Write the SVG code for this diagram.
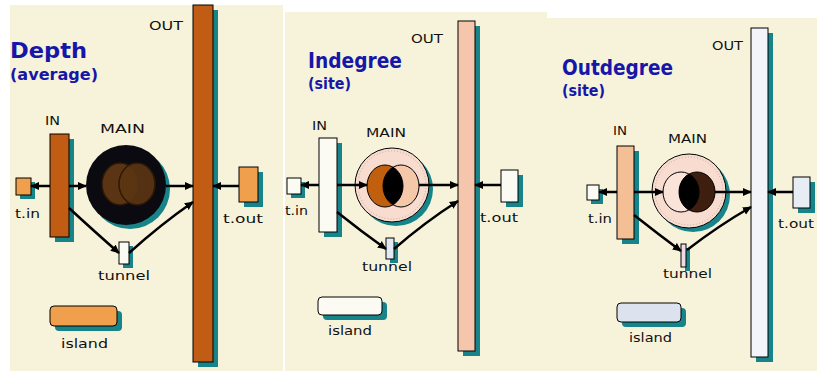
<svg xmlns="http://www.w3.org/2000/svg" width="817" height="371" viewBox="0 0 817 371">
<defs>
<marker id="ah" viewBox="0 0 10 10" refX="9" refY="5" markerWidth="9" markerHeight="9" markerUnits="userSpaceOnUse" orient="auto">
<path d="M0,0.5 L10,5 L0,9.5 z" fill="#000"/>
</marker>
<clipPath id="c2"><ellipse cx="401" cy="186" rx="18" ry="21"/></clipPath>
<clipPath id="c3"><ellipse cx="697" cy="192" rx="18" ry="20"/></clipPath>
<style>
.bg{fill:#f7f3da}
.sh{fill:#17848a}
.box{stroke:#000;stroke-width:1}
.lbl{font-family:"DejaVu Sans","Liberation Sans",sans-serif;font-size:13px;fill:#111}
.ttl{font-family:"DejaVu Sans","Liberation Sans",sans-serif;font-weight:bold;fill:#1616a8}
.cn{fill:none;stroke:#000;stroke-width:2.5;marker-end:url(#ah)}
.brown{fill:#c05c14}
.orange{fill:#f0a04c}
.peach{fill:#f6c6ac}
.white{fill:#fbfaf3}
.ring{fill:#f8dcd0;stroke:#000;stroke-width:1}
.dots{fill:none;stroke:#c9aaa0;stroke-width:1;stroke-dasharray:1 2}
</style>
</defs>
<rect width="817" height="371" fill="#fff"/>
<!-- panel backgrounds -->
<rect class="bg" x="10" y="5" width="273" height="366"/>
<rect class="bg" x="285" y="12" width="262" height="359"/>
<rect class="bg" x="547" y="18" width="270" height="353"/>

<!-- ===== Panel 1 : Depth ===== -->
<g id="p1-title">
<text class="ttl" x="10" y="58" font-size="22" textLength="77" lengthAdjust="spacingAndGlyphs">Depth</text>
<text class="ttl" x="10" y="80" font-size="15" textLength="88" lengthAdjust="spacingAndGlyphs">(average)</text>
</g>
<g id="p1-out">
<rect class="sh" x="198" y="10" width="20" height="357"/>
<rect class="box brown" x="193" y="5" width="20" height="357"/>
<text class="lbl" x="149" y="30" textLength="34" lengthAdjust="spacingAndGlyphs">OUT</text>
</g>
<g id="p1-in">
<rect class="sh" x="55" y="139" width="19" height="103"/>
<rect class="box brown" x="50" y="134" width="19" height="103"/>
<text class="lbl" x="45" y="125" textLength="15" lengthAdjust="spacingAndGlyphs">IN</text>
</g>
<g id="p1-main">
<circle class="sh" cx="130" cy="189" r="40"/>
<circle cx="126" cy="185" r="40" fill="#0a0a10"/>
<ellipse cx="120" cy="184" rx="18" ry="21" fill="#5b3513" stroke="#2e1806" stroke-width="1.5"/>
<ellipse cx="137" cy="184" rx="18" ry="21" fill="#5b3513" fill-opacity="0.9" stroke="#2e1806" stroke-width="1.5"/>
<text class="lbl" x="100" y="133" textLength="45" lengthAdjust="spacingAndGlyphs">MAIN</text>
</g>
<g id="p1-tin">
<rect class="sh" x="20" y="182" width="15" height="17"/>
<rect class="box orange" x="16" y="178" width="15" height="17"/>
<text class="lbl" x="15" y="218" textLength="25" lengthAdjust="spacingAndGlyphs">t.in</text>
</g>
<g id="p1-tout">
<rect class="sh" x="244" y="172" width="19" height="35"/>
<rect class="box orange" x="239" y="167" width="19" height="35"/>
<text class="lbl" x="223" y="223" textLength="40" lengthAdjust="spacingAndGlyphs">t.out</text>
</g>
<g id="p1-tunnel">
<rect class="sh" x="123" y="246" width="10" height="22"/>
<rect class="box white" x="119" y="242" width="10" height="22"/>
<text class="lbl" x="98" y="280" textLength="52" lengthAdjust="spacingAndGlyphs">tunnel</text>
</g>
<g id="p1-island">
<rect class="sh" x="55" y="311" width="67" height="20" rx="4"/>
<rect class="box orange" x="50" y="306" width="67" height="20" rx="4"/>
<text class="lbl" x="61" y="348" textLength="47" lengthAdjust="spacingAndGlyphs">island</text>
</g>

<!-- ===== Panel 2 : Indegree ===== -->
<g id="p2-title">
<text class="ttl" x="308" y="68" font-size="22" textLength="94" lengthAdjust="spacingAndGlyphs">Indegree</text>
<text class="ttl" x="308" y="89" font-size="15" textLength="43" lengthAdjust="spacingAndGlyphs">(site)</text>
</g>
<g id="p2-out">
<rect class="sh" x="463" y="26" width="17" height="330"/>
<rect class="box peach" x="458" y="21" width="17" height="330"/>
<text class="lbl" x="411" y="43" textLength="32" lengthAdjust="spacingAndGlyphs">OUT</text>
</g>
<g id="p2-in">
<rect class="sh" x="324" y="143" width="18" height="94"/>
<rect class="box white" x="319" y="138" width="18" height="94"/>
<text class="lbl" x="312" y="130" textLength="15" lengthAdjust="spacingAndGlyphs">IN</text>
</g>
<g id="p2-main">
<circle class="sh" cx="396" cy="189" r="37"/>
<circle class="ring" cx="392" cy="185" r="37"/>
<circle class="dots" cx="392" cy="185" r="34"/>
<ellipse cx="385" cy="186" rx="18" ry="21" fill="#c0600f"/>
<ellipse cx="401" cy="186" rx="18" ry="21" fill="#f6c8aa"/>
<ellipse cx="385" cy="186" rx="18" ry="21" fill="#000" clip-path="url(#c2)"/>
<ellipse cx="385" cy="186" rx="18" ry="21" fill="none" stroke="#000"/>
<ellipse cx="401" cy="186" rx="18" ry="21" fill="none" stroke="#000"/>
<text class="lbl" x="366" y="137" textLength="40" lengthAdjust="spacingAndGlyphs">MAIN</text>
</g>
<g id="p2-tin">
<rect class="sh" x="291" y="182" width="14" height="16"/>
<rect class="box white" x="287" y="178" width="14" height="16"/>
<text class="lbl" x="285" y="215" textLength="23" lengthAdjust="spacingAndGlyphs">t.in</text>
</g>
<g id="p2-tout">
<rect class="sh" x="506" y="175" width="17" height="32"/>
<rect class="box white" x="501" y="170" width="17" height="32"/>
<text class="lbl" x="480" y="222" textLength="38" lengthAdjust="spacingAndGlyphs">t.out</text>
</g>
<g id="p2-tunnel">
<rect class="sh" x="390" y="242" width="8" height="21"/>
<rect class="box" x="386" y="238" width="8" height="21" fill="#e6e8f2"/>
<text class="lbl" x="362" y="271" textLength="50" lengthAdjust="spacingAndGlyphs">tunnel</text>
</g>
<g id="p2-island">
<rect class="sh" x="323" y="302" width="64" height="18" rx="4"/>
<rect class="box white" x="318" y="297" width="64" height="18" rx="4"/>
<text class="lbl" x="328" y="335" textLength="44" lengthAdjust="spacingAndGlyphs">island</text>
</g>

<!-- ===== Panel 3 : Outdegree ===== -->
<g id="p3-title">
<text class="ttl" x="562" y="75" font-size="22" textLength="111" lengthAdjust="spacingAndGlyphs">Outdegree</text>
<text class="ttl" x="562" y="96" font-size="15" textLength="43" lengthAdjust="spacingAndGlyphs">(site)</text>
</g>
<g id="p3-out">
<rect class="sh" x="756" y="33" width="17" height="329"/>
<rect class="box" x="751" y="28" width="17" height="329" fill="#f3f3fa"/>
<text class="lbl" x="712" y="50" textLength="31" lengthAdjust="spacingAndGlyphs">OUT</text>
</g>
<g id="p3-in">
<rect class="sh" x="622" y="151" width="17" height="93"/>
<rect class="box" x="617" y="146" width="17" height="93" fill="#f4bf94"/>
<text class="lbl" x="613" y="135" textLength="14" lengthAdjust="spacingAndGlyphs">IN</text>
</g>
<g id="p3-main">
<circle class="sh" cx="693" cy="195" r="37"/>
<circle class="ring" cx="689" cy="191" r="37"/>
<circle class="dots" cx="689" cy="191" r="34"/>
<ellipse cx="681" cy="192" rx="18" ry="20" fill="#fae4da"/>
<ellipse cx="697" cy="192" rx="18" ry="20" fill="#3e1e0e"/>
<ellipse cx="681" cy="192" rx="18" ry="20" fill="#000" clip-path="url(#c3)"/>
<ellipse cx="681" cy="192" rx="18" ry="20" fill="none" stroke="#000"/>
<ellipse cx="697" cy="192" rx="18" ry="20" fill="none" stroke="#000"/>
<text class="lbl" x="668" y="143" textLength="39" lengthAdjust="spacingAndGlyphs">MAIN</text>
</g>
<g id="p3-tin">
<rect class="sh" x="591" y="189" width="12" height="15"/>
<rect class="box white" x="587" y="185" width="12" height="15"/>
<text class="lbl" x="588" y="223" textLength="24" lengthAdjust="spacingAndGlyphs">t.in</text>
</g>
<g id="p3-tout">
<rect class="sh" x="798" y="182" width="17" height="31"/>
<rect class="box" x="793" y="177" width="17" height="31" fill="#e8ecf5"/>
<text class="lbl" x="778" y="228" textLength="36" lengthAdjust="spacingAndGlyphs">t.out</text>
</g>
<g id="p3-tunnel">
<rect class="sh" x="685" y="248" width="5" height="23"/>
<rect class="box" x="681" y="244" width="5" height="23" fill="#f2dae4"/>
<text class="lbl" x="663" y="278" textLength="49" lengthAdjust="spacingAndGlyphs">tunnel</text>
</g>
<g id="p3-island">
<rect class="sh" x="622" y="308" width="64" height="19" rx="4"/>
<rect class="box" x="617" y="303" width="64" height="19" rx="4" fill="#dde2ef"/>
<text class="lbl" x="629" y="342" textLength="43" lengthAdjust="spacingAndGlyphs">island</text>
</g>

<!-- ===== Connectors ===== -->
<g id="connectors">
<line class="cn" x1="50" y1="186" x2="31" y2="186"/>
<line class="cn" x1="69" y1="186" x2="86" y2="186"/>
<line class="cn" x1="166" y1="186" x2="193" y2="186"/>
<line class="cn" x1="239" y1="186" x2="213" y2="186"/>
<path class="cn" d="M69,208 Q95,232 119,253"/>
<path class="cn" d="M129,253 Q160,225 193,202"/>

<line class="cn" x1="319" y1="185" x2="301" y2="185"/>
<line class="cn" x1="337" y1="185" x2="367" y2="185"/>
<line class="cn" x1="419" y1="185" x2="458" y2="185"/>
<line class="cn" x1="501" y1="185" x2="475" y2="185"/>
<path class="cn" d="M337,212 Q362,232 386,249"/>
<path class="cn" d="M394,249 Q425,222 458,201"/>

<line class="cn" x1="617" y1="192" x2="599" y2="192"/>
<line class="cn" x1="634" y1="192" x2="663" y2="192"/>
<line class="cn" x1="715" y1="192" x2="751" y2="192"/>
<line class="cn" x1="793" y1="192" x2="768" y2="192"/>
<path class="cn" d="M634,215 Q658,234 681,251"/>
<path class="cn" d="M687,250 Q718,226 751,207"/>
</g>
</svg>
